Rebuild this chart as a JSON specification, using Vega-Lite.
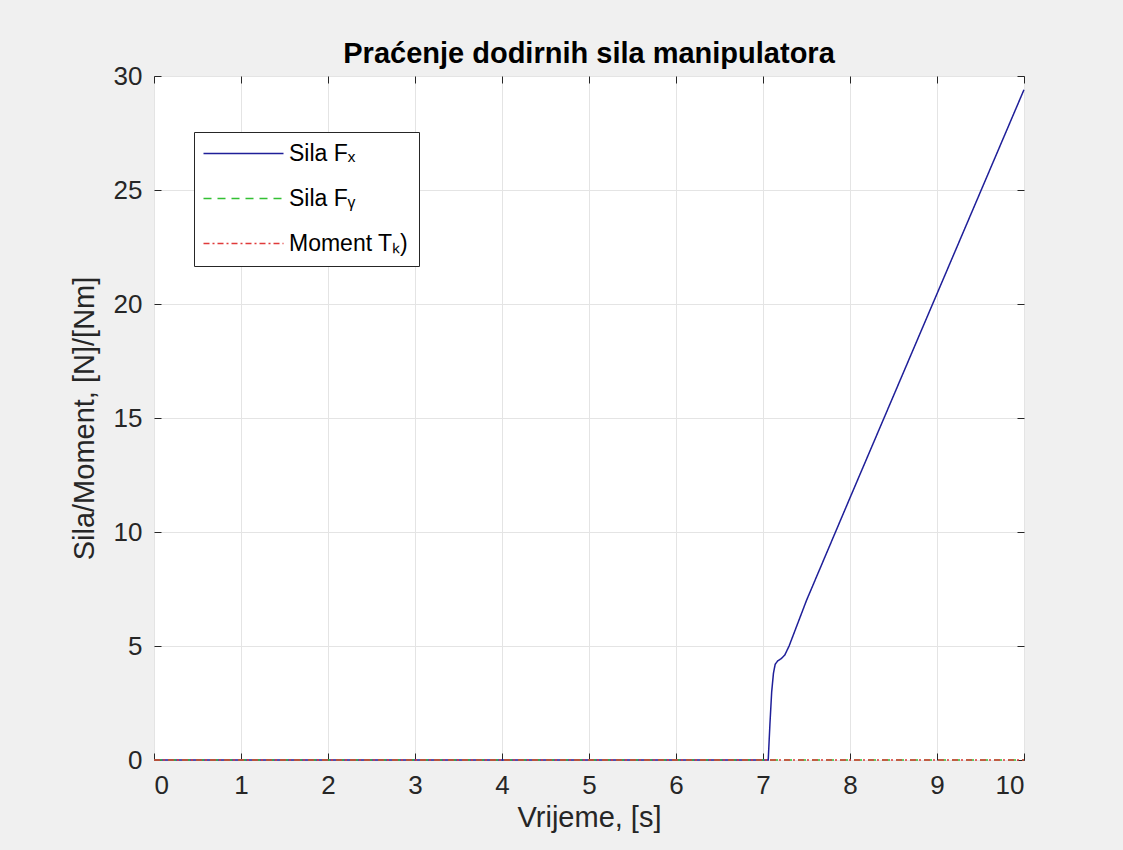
{
  "$schema": "https://vega.github.io/schema/vega-lite/v6.json",
  "autosize": {"type": "none"},
  "width": 870,
  "height": 684,
  "padding": {"left": 154, "top": 76, "right": 99, "bottom": 90},
  "background": "#f0f0f0",
  "config": {
    "view": {"fill": "white", "stroke": "#262626", "strokeWidth": 1},
    "font": "Liberation Sans",
    "axis": {
      "grid": true,
      "gridColor": "#e4e4e4",
      "gridWidth": 1,
      "domain": false,
      "tickSize": -7,
      "tickColor": "#262626",
      "tickWidth": 1,
      "labelFont": "Liberation Sans",
      "labelFontSize": 26,
      "labelColor": "#262626",
      "titleFont": "Liberation Sans",
      "titleFontSize": 29,
      "titleFontWeight": "normal",
      "titleColor": "#262626"
    },
    "legend": {
      "orient": "none",
      "legendX": 40,
      "legendY": 56,
      "title": null,
      "symbolType": "M-2.4,0H13.6",
      "symbolSize": 100,
      "symbolStrokeWidth": 1.5,
      "labelOffset": 62,
      "labelFont": "Liberation Sans",
      "labelFontSize": 23,
      "labelColor": "#000000",
      "labelLimit": 300,
      "fillColor": "white",
      "strokeColor": "#262626",
      "padding": 10,
      "rowPadding": 21
    }
  },
  "title": {
    "text": "Praćenje dodirnih sila manipulatora",
    "font": "Liberation Sans",
    "fontSize": 29,
    "fontWeight": "bold",
    "color": "#000000",
    "offset": -6
  },
  "data": {
    "values": [
      {"t": 0, "v": 0, "s": "Sila Fₓ"},
      {"t": 7.06, "v": 0, "s": "Sila Fₓ"},
      {"t": 7.08, "v": 1.6, "s": "Sila Fₓ"},
      {"t": 7.1, "v": 3.0, "s": "Sila Fₓ"},
      {"t": 7.12, "v": 3.8, "s": "Sila Fₓ"},
      {"t": 7.14, "v": 4.2, "s": "Sila Fₓ"},
      {"t": 7.17, "v": 4.35, "s": "Sila Fₓ"},
      {"t": 7.21, "v": 4.45, "s": "Sila Fₓ"},
      {"t": 7.25, "v": 4.6, "s": "Sila Fₓ"},
      {"t": 7.3, "v": 5.0, "s": "Sila Fₓ"},
      {"t": 7.4, "v": 6.0, "s": "Sila Fₓ"},
      {"t": 7.5, "v": 7.0, "s": "Sila Fₓ"},
      {"t": 8, "v": 11.5, "s": "Sila Fₓ"},
      {"t": 9, "v": 20.45, "s": "Sila Fₓ"},
      {"t": 10, "v": 29.4, "s": "Sila Fₓ"},
      {"t": 0, "v": 0, "s": "Sila Fᵧ"},
      {"t": 10, "v": 0, "s": "Sila Fᵧ"},
      {"t": 0, "v": 0, "s": "Moment Tₖ)"},
      {"t": 10, "v": 0, "s": "Moment Tₖ)"}
    ]
  },
  "layer": [
    {
      "mark": {"type": "line", "strokeWidth": 1.5},
      "encoding": {
        "x": {
          "field": "t",
          "type": "quantitative",
          "scale": {"domain": [0, 10], "nice": false},
          "axis": {
            "values": [0, 1, 2, 3, 4, 5, 6, 7, 8, 9, 10],
            "labelPadding": 19,
            "title": "Vrijeme, [s]",
            "titleBaseline": "alphabetic",
            "titleY": 66
          }
        },
        "y": {
          "field": "v",
          "type": "quantitative",
          "scale": {"domain": [0, 30], "nice": false},
          "axis": {
            "values": [0, 5, 10, 15, 20, 25, 30],
            "labelPadding": 19,
            "title": "Sila/Moment, [N]/[Nm]",
            "titleBaseline": "alphabetic",
            "titleX": -61
          }
        },
        "color": {
          "field": "s",
          "type": "nominal",
          "scale": {
            "domain": ["Sila Fₓ", "Sila Fᵧ", "Moment Tₖ)"],
            "range": ["#1f1f99", "#33c033", "#e03a3a"]
          },
          "legend": {"title": null}
        },
        "strokeDash": {
          "field": "s",
          "type": "nominal",
          "scale": {
            "domain": ["Sila Fₓ", "Sila Fᵧ", "Moment Tₖ)"],
            "range": [[1, 0], [8, 6], [6, 3, 2, 3]]
          },
          "legend": {"title": null}
        }
      }
    },
    {
      "mark": {"type": "line", "opacity": 0},
      "encoding": {
        "x": {
          "field": "t",
          "type": "quantitative",
          "axis": {
            "orient": "top",
            "values": [0, 1, 2, 3, 4, 5, 6, 7, 8, 9, 10],
            "labels": false,
            "grid": false,
            "title": null
          }
        },
        "y": {
          "field": "v",
          "type": "quantitative",
          "axis": {
            "orient": "right",
            "values": [0, 5, 10, 15, 20, 25, 30],
            "labels": false,
            "grid": false,
            "title": null
          }
        }
      }
    }
  ],
  "resolve": {"axis": {"x": "independent", "y": "independent"}}
}
